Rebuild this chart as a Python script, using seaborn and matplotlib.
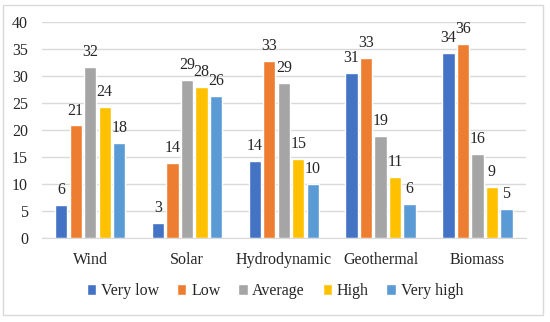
import pandas as pd
import matplotlib
matplotlib.use("Agg")
import matplotlib.pyplot as plt
import matplotlib.patches as mpatches
import seaborn as sns

# Données
categories = ["Wind", "Solar", "Hydrodynamic", "Geothermal", "Biomass"]
levels = ["Very low", "Low", "Average", "High", "Very high"]
very_low = [6.1, 2.8, 14.3, 30.6, 34.3]
low = [20.8, 13.9, 32.8, 33.3, 35.9]
average = [31.6, 29.3, 28.6, 18.9, 15.5]
high = [24.3, 28.0, 14.6, 11.3, 9.4]
very_high = [17.6, 26.3, 10.0, 6.3, 5.3]
colors = ["#4472C4", "#ED7D31", "#A5A5A5", "#FFC000", "#5B9BD5"]

series = [very_low, low, average, high, very_high]
rows = []
for lvl, vals in zip(levels, series):
    for cat, v in zip(categories, vals):
        rows.append({"category": cat, "level": lvl, "value": v})
df = pd.DataFrame(rows)

sns.set_style("white")
plt.rcParams["font.family"] = ["Liberation Serif", "DejaVu Serif"]
plt.rcParams["font.size"] = 11.5

fig = plt.figure(figsize=(5.5, 3.22), dpi=100)
ax = fig.add_axes([0.076, 0.262, 0.88, 0.67])

sns.barplot(data=df, x="category", y="value", hue="level", order=categories,
            hue_order=levels, palette=colors, width=0.75, gap=0.15,
            saturation=1, ax=ax, legend=True)

for cont in ax.containers:
    labels = ["%.0f" % b.get_height() for b in cont]
    ax.bar_label(cont, labels=labels, padding=5, fontsize=11.5, color="#262626")

ax.set_ylim(0, 40)
ax.set_yticks(range(0, 41, 5))
ax.yaxis.grid(True, color="#D9D9D9", linewidth=1)
ax.set_axisbelow(True)
ax.set_xlabel("")
ax.set_ylabel("")
for s in ["top", "right", "left"]:
    ax.spines[s].set_visible(False)
ax.spines["bottom"].set_color("#D9D9D9")
ax.tick_params(axis="y", length=0, pad=10, labelsize=11.5, labelcolor="#262626")
ax.tick_params(axis="x", length=0, pad=10, labelsize=11.5, labelcolor="#262626")

handles, labs = ax.get_legend_handles_labels()
ax.legend(handles, labs, loc="center", bbox_to_anchor=(0.5, 0.096),
          bbox_transform=fig.transFigure, ncol=5, frameon=False,
          handlelength=0.6, handleheight=0.6, handletextpad=0.3,
          columnspacing=1.1, fontsize=11.5, labelcolor="#262626")

border = mpatches.Rectangle((0.006, 0.022), 0.981, 0.962, transform=fig.transFigure,
                            fill=False, edgecolor="#D9D9D9", linewidth=1)
fig.patches.append(border)

fig.savefig("out.png", dpi=100)
